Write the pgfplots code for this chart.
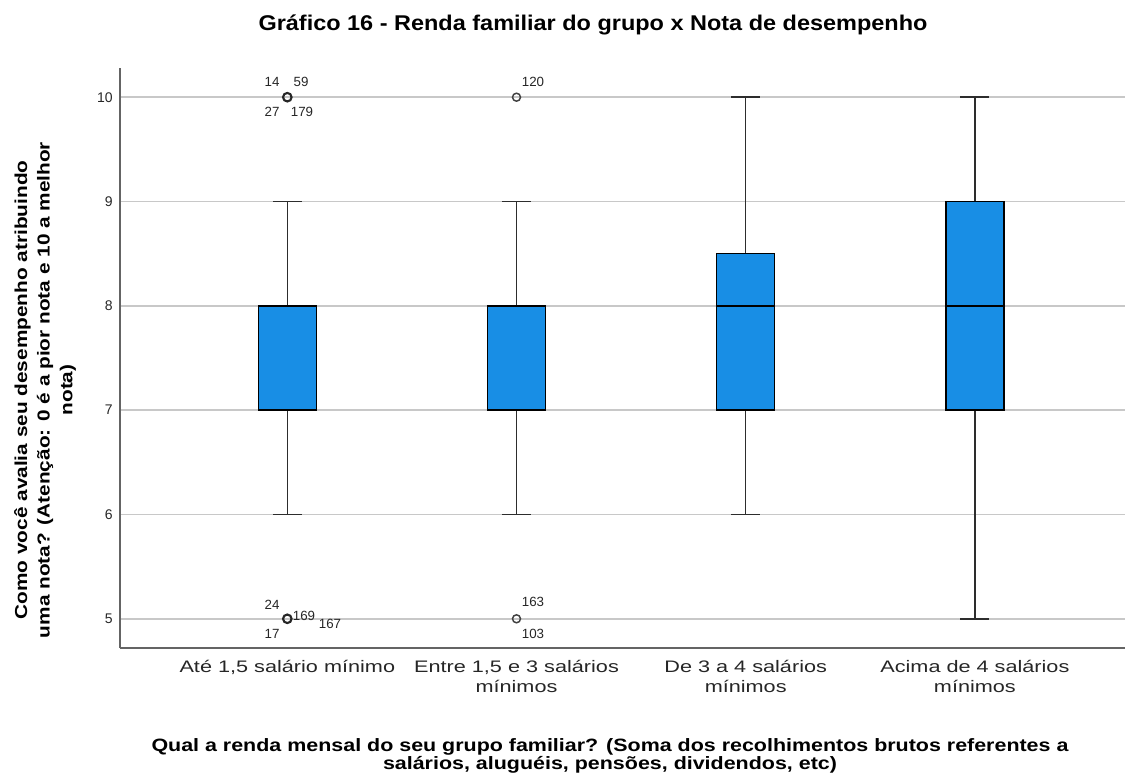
\documentclass[border=0pt]{standalone}
\usepackage{pgfplots}
\pgfplotsset{compat=1.18}
\usepgfplotslibrary{statistics}
\usepackage{fontspec}
\setmainfont{Liberation Sans}
\newfontfamily\fcat[FakeStretch=1.3]{Liberation Sans}
\newfontfamily\flab[FakeStretch=1.2]{Liberation Sans Bold}
\newfontfamily\ftit[FakeStretch=1.1]{Liberation Sans Bold}
\definecolor{boxblue}{RGB}{24,142,229}
\definecolor{gridgray}{RGB}{200,200,200}
\definecolor{axgray}{RGB}{100,100,100}
\definecolor{whgray}{RGB}{45,45,45}
\newcommand\px[2]{({(#1-120)*0.75pt},{(648-#2)*0.75pt})}
\begin{document}
\begin{tikzpicture}
\useasboundingbox (-90pt,-97.5pt) rectangle (761.25pt,486pt);
\begin{axis}[
  scale only axis,
  width=753.75pt, height=435pt,
  xmin=-0.73, xmax=3.655,
  ymin=4.72, ymax=10.28,
  axis lines*=left,
  axis line style={draw=axgray, line width=1.1pt},
  ytick={5,6,7,8,9,10},
  ymajorgrids,
  grid style={draw=gridgray, line width=1.4pt},
  ytick style={draw=none},
  xtick={0,1,2,3},
  xtick style={draw=none},
  xticklabels={{Até 1,5 salário mínimo}, {Entre 1,5 e 3 salários\\mínimos}, {De 3 a 4 salários\\mínimos}, {Acima de 4 salários\\mínimos}},
  xticklabel style={align=center, font=\fcat\fontsize{12.5pt}{15pt}\selectfont, text=black!85, yshift=-6pt},
  yticklabel style={font=\fontsize{10.5pt}{12pt}\selectfont, text=black!85, xshift=-2pt},
  /pgf/number format/assume math mode=true,
  clip=false,
  boxplot/draw direction=y,
  boxplot/box extend=0.253,
  boxplot/whisker extend=0.127,
  boxplot/every box/.style={draw=black, line width=1pt, fill=boxblue},
  boxplot/every whisker/.style={draw=whgray, line width=1.1pt},
  boxplot/every median/.style={draw=black, line width=2pt},
]
\addplot+[solid, draw=black, mark=none, boxplot prepared={draw position=0, lower whisker=6, lower quartile=7, median=8, upper quartile=8, upper whisker=9}] coordinates {};
\addplot+[solid, draw=black, mark=none, boxplot prepared={draw position=1, lower whisker=6, lower quartile=7, median=8, upper quartile=8, upper whisker=9}] coordinates {};
\addplot+[solid, draw=black, mark=none, boxplot prepared={draw position=2, lower whisker=6, lower quartile=7, median=8, upper quartile=8.5, upper whisker=10}] coordinates {};
\addplot+[solid, draw=black, mark=none, boxplot prepared={draw position=3, lower whisker=5, lower quartile=7, median=8, upper quartile=9, upper whisker=10}] coordinates {};
\addplot[only marks, mark=o, mark size=3.2pt, mark options={line width=1.6pt, draw=black!85}] coordinates {(0,10) (0,5)};
\addplot[only marks, mark=o, mark size=3pt, mark options={line width=1.1pt, draw=black!75}] coordinates {(1,10) (1,5)};
\end{axis}
% title
\node[font=\ftit\fontsize{16pt}{18pt}\selectfont] at \px{593}{25} {Gráfico 16 - Renda familiar do grupo x Nota de desempenho};
% y label
\node[rotate=90, align=center, font=\flab\fontsize{13pt}{17pt}\selectfont] at \px{45}{390} {Como você avalia seu desempenho atribuindo\\uma nota? (Atenção: 0 é a pior nota e 10 a melhor\\nota)};
% x label
\node[align=center, font=\flab\fontsize{13.4pt}{13.5pt}\selectfont] at \px{610}{756} {Qual a renda mensal do seu grupo familiar? (Soma dos recolhimentos brutos referentes a\\salários, aluguéis, pensões, dividendos, etc)};
% outlier labels
\begin{scope}[every node/.style={font=\fontsize{10pt}{11pt}\selectfont, text=black!85, inner sep=0pt}]
\node at \px{272}{82} {14};
\node at \px{301}{82} {59};
\node at \px{272}{112} {27};
\node at \px{302}{112} {179};
\node at \px{533}{82} {120};
\node at \px{272}{605} {24};
\node at \px{272}{634} {17};
\node at \px{304}{616} {169};
\node at \px{330}{624} {167};
\node at \px{533}{602} {163};
\node at \px{533}{634} {103};
\end{scope}
\end{tikzpicture}
\end{document}
